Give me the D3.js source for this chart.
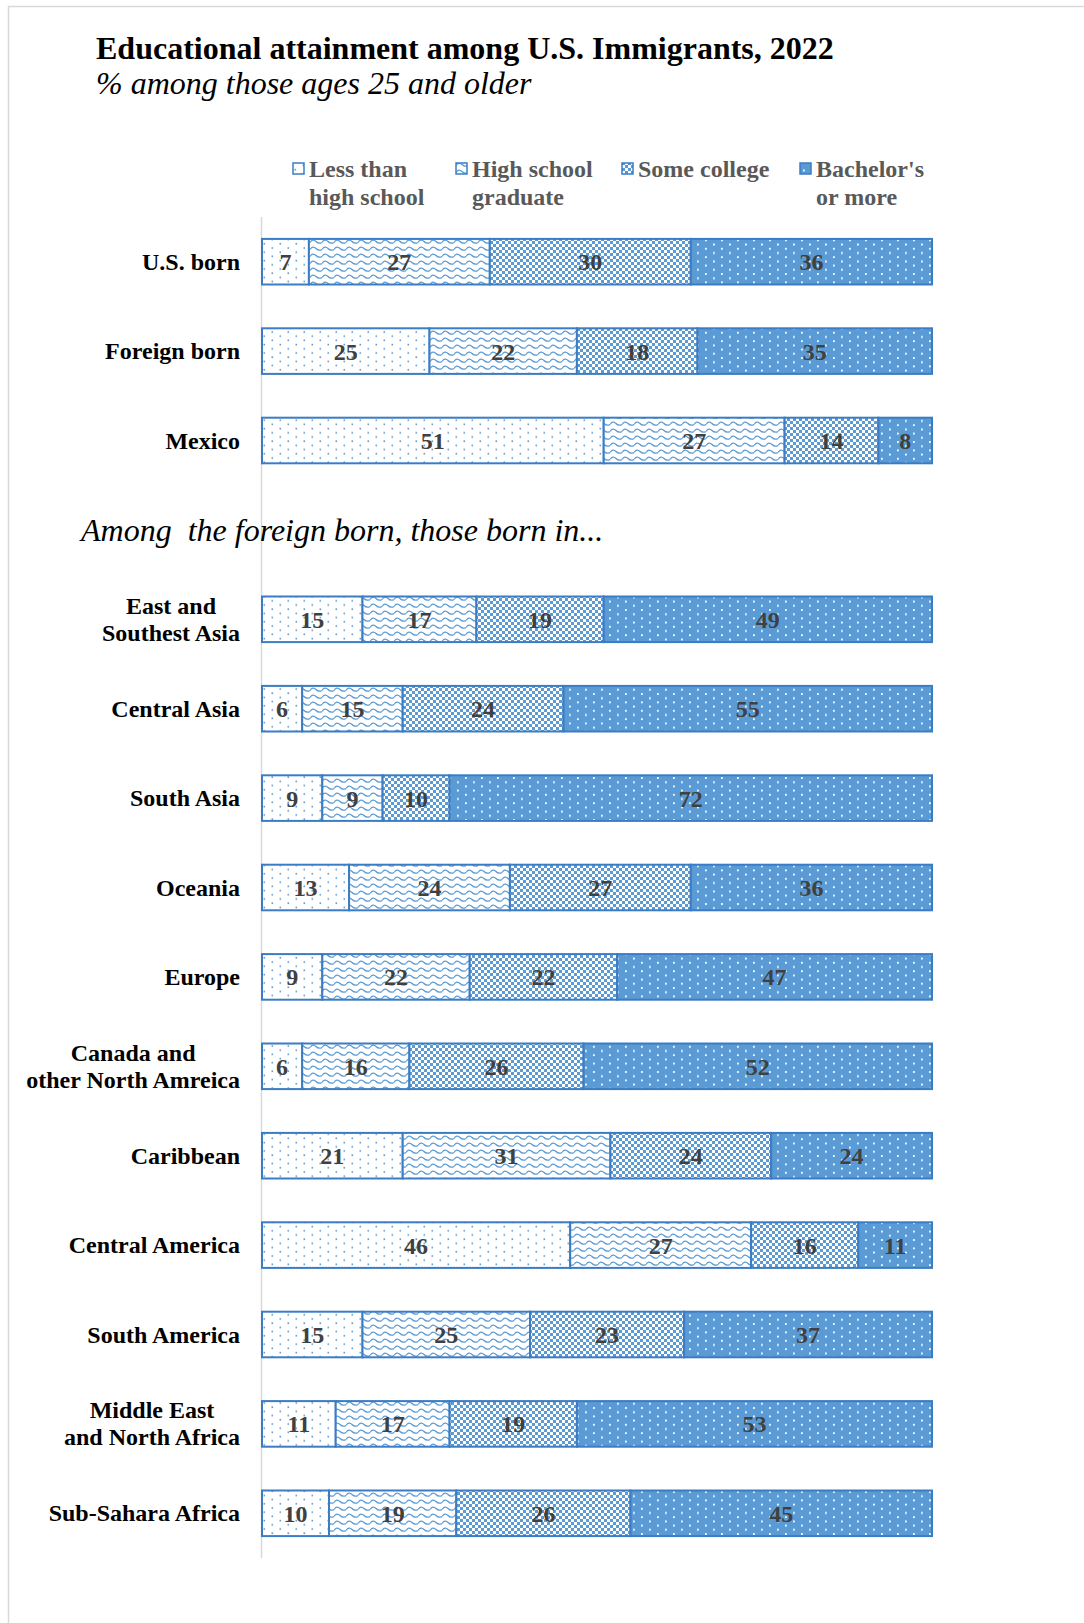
<!DOCTYPE html>
<html>
<head>
<meta charset="utf-8">
<script src="https://cdn.jsdelivr.net/npm/d3@7"></script>
<style>
    body { margin: 0; background: #ffffff; }
    svg { display: block; }
</style>
</head>
<body>
<div id="edu-chart"></div>
<script>
// Categories (top group, then the regions of birth)
const topGroups = ["U.S. born", "Foreign born", "Mexico"]
const regions = [
    "East and\nSouthest Asia",
    "Central Asia",
    "South Asia",
    "Oceania",
    "Europe",
    "Canada and\nother North Amreica",
    "Caribbean",
    "Central America",
    "South America",
    "Middle East\nand North Africa",
    "Sub-Sahara Africa"
]
const categories = topGroups.concat(regions)

// Series values, same order as categories
const lessThanHS  = [7, 25, 51, 15, 6, 9, 13, 9, 6, 21, 46, 15, 11, 10]
const hsGraduate  = [27, 22, 27, 17, 15, 9, 24, 22, 16, 31, 27, 25, 17, 19]
const someCollege = [30, 18, 14, 19, 24, 10, 27, 22, 26, 24, 16, 23, 19, 26]
const bachelors   = [36, 35, 8, 49, 55, 72, 36, 47, 52, 24, 11, 37, 53, 45]

const seriesKeys = ["less", "hs", "some", "bach"]
const seriesLabels = ["Less than\nhigh school", "High school\ngraduate", "Some college", "Bachelor's\nor more"]

const titleText = "Educational attainment among U.S. Immigrants, 2022"
const subtitleText = "% among those ages 25 and older"
const gapText = "Among  the foreign born, those born in..."

function drawChart() {
    const table = categories.map((c, i) => ({
        category: c,
        less: lessThanHS[i],
        hs: hsGraduate[i],
        some: someCollege[i],
        bach: bachelors[i]
    }))

    const blue = "#5b9bd5"
    const edge = "#3b7cc4"
    const serif = "'Liberation Serif', 'Times New Roman', serif"

    // Set dimensions
    const dimensions = {
        width: 1084,
        height: 1623,
        margins: { top: 217, left: 262, right: 152, bottom: 65 }
    }
    dimensions.boundedWidth = dimensions.width - dimensions.margins.left - dimensions.margins.right
    dimensions.boundedHeight = dimensions.height - dimensions.margins.top - dimensions.margins.bottom

    // Create wrapper
    const wrapper = d3.select("#edu-chart").append("svg")
        .attr("width", dimensions.width)
        .attr("height", dimensions.height)
        .style("font-family", serif)

    // Chart frame
    wrapper.append("rect")
        .attr("x", 8.5).attr("y", 6.5)
        .attr("width", 1200).attr("height", 1800)
        .attr("fill", "none")
        .attr("stroke", "#d9d9d9")
        .attr("stroke-width", 1.5)

    // Patterns
    const defs = wrapper.append("defs")

    const pLess = defs.append("pattern").attr("id", "pat-less")
        .attr("patternUnits", "userSpaceOnUse").attr("width", 16).attr("height", 8.4)
    pLess.append("rect").attr("width", 16).attr("height", 8.4).attr("fill", "#ffffff")
    pLess.append("rect").attr("x", 1.5).attr("y", 0.8).attr("width", 1.6).attr("height", 1.6).attr("fill", blue)
    pLess.append("rect").attr("x", 9.5).attr("y", 5).attr("width", 1.6).attr("height", 1.6).attr("fill", blue)

    const pHs = defs.append("pattern").attr("id", "pat-hs")
        .attr("patternUnits", "userSpaceOnUse").attr("width", 12).attr("height", 7)
    pHs.append("rect").attr("width", 12).attr("height", 7).attr("fill", "#ffffff")
    pHs.append("path")
        .attr("d", "M0,4.5 C2,1.5 4,1.5 6,3.5 C8,5.5 10,5.5 12,4.5")
        .attr("fill", "none").attr("stroke", blue).attr("stroke-width", 1.3)

    const pSome = defs.append("pattern").attr("id", "pat-some")
        .attr("patternUnits", "userSpaceOnUse").attr("width", 6).attr("height", 6)
    pSome.append("rect").attr("width", 6).attr("height", 6).attr("fill", "#ffffff")
    pSome.append("rect").attr("width", 3).attr("height", 3).attr("fill", blue)
    pSome.append("rect").attr("x", 3).attr("y", 3).attr("width", 3).attr("height", 3).attr("fill", blue)

    const pBach = defs.append("pattern").attr("id", "pat-bach")
        .attr("patternUnits", "userSpaceOnUse").attr("width", 16).attr("height", 8.4)
    pBach.append("rect").attr("width", 16).attr("height", 8.4).attr("fill", blue)
    pBach.append("rect").attr("x", 3).attr("y", 1.5).attr("width", 1.8).attr("height", 1.8).attr("fill", "#ffffff")
    pBach.append("rect").attr("x", 11).attr("y", 5.7).attr("width", 1.8).attr("height", 1.8).attr("fill", "#ffffff")

    const fillFor = key => `url(#pat-${key})`

    // Title and subtitle
    wrapper.append("text")
        .attr("x", 96).attr("y", 59)
        .attr("font-size", 32).attr("font-weight", "bold").attr("fill", "#000000")
        .text(titleText)
    wrapper.append("text")
        .attr("x", 96).attr("y", 94)
        .attr("font-size", 32).attr("font-style", "italic").attr("fill", "#000000")
        .text(subtitleText)

    // Create bounds
    const bounds = wrapper.append("g")
        .attr("transform", `translate(${dimensions.margins.left}, ${dimensions.margins.top})`)

    // Create scales (one empty band between the two groups)
    const yDomain = topGroups.concat(["gap"], regions)
    const yScale = d3.scaleBand()
        .domain(yDomain)
        .range([0, dimensions.boundedHeight])
        .paddingInner(0.49)
        .paddingOuter(0.245)

    const xScale = d3.scaleLinear()
        .domain([0, 100])
        .range([0, dimensions.boundedWidth])

    const stacked = d3.stack().keys(seriesKeys)(table)

    // Vertical axis line
    bounds.append("line")
        .attr("x1", -0.5).attr("x2", -0.5)
        .attr("y1", 0).attr("y2", dimensions.boundedHeight)
        .attr("stroke", "#d9d9d9").attr("stroke-width", 1.5)

    // Section note in the empty band
    bounds.append("text")
        .attr("x", 81 - dimensions.margins.left)
        .attr("y", yScale("gap") + yScale.bandwidth() / 2 + 11)
        .attr("font-size", 32).attr("font-style", "italic").attr("fill", "#000000")
        .style("white-space", "pre")
        .text(gapText)

    // Draw bars
    const layers = bounds.selectAll(".layer")
        .data(stacked)
        .join("g")
        .attr("class", "layer")
        .attr("fill", d => fillFor(d.key))

    layers.selectAll("rect")
        .data(d => d)
        .join("rect")
        .attr("x", d => xScale(d[0]))
        .attr("y", d => yScale(d.data.category))
        .attr("width", d => xScale(d[1]) - xScale(d[0]))
        .attr("height", yScale.bandwidth())
        .attr("stroke", edge)
        .attr("stroke-width", 2)

    // Value labels
    layers.selectAll(".val")
        .data(d => d)
        .join("text")
        .attr("class", "val")
        .attr("x", d => xScale((d[0] + d[1]) / 2))
        .attr("y", d => yScale(d.data.category) + yScale.bandwidth() / 2 + 8.5)
        .attr("text-anchor", "middle")
        .attr("font-size", 24).attr("font-weight", "bold").attr("fill", "#404040")
        .text(d => d[1] - d[0])

    // Category labels (multi-line ones centred on each other, block right-aligned)
    const labelRight = 240 - dimensions.margins.left
    categories.forEach(c => {
        const lines = c.split("\n")
        const cy = yScale(c) + yScale.bandwidth() / 2
        const t = bounds.append("text")
            .attr("font-size", 24).attr("font-weight", "bold").attr("fill", "#000000")
            .attr("text-anchor", "middle")
        lines.forEach((line, i) => {
            t.append("tspan")
                .attr("y", cy + 8 - (lines.length - 1) * 13.5 + i * 27)
                .text(line)
        })
        const widths = t.selectAll("tspan").nodes().map(n => n.getComputedTextLength())
        const maxW = d3.max(widths)
        t.selectAll("tspan").attr("x", labelRight - maxW / 2)
    })

    // Legend
    const legendX = [293, 456, 622, 800]
    const legend = wrapper.append("g")
    seriesKeys.forEach((key, i) => {
        const g = legend.append("g").attr("transform", `translate(${legendX[i]}, 0)`)
        g.append("rect")
            .attr("x", 0).attr("y", 163)
            .attr("width", 11).attr("height", 11)
            .attr("fill", fillFor(key))
            .attr("stroke", edge).attr("stroke-width", 1.5)
        const t = g.append("text")
            .attr("font-size", 24).attr("font-weight", "bold").attr("fill", "#595959")
        seriesLabels[i].split("\n").forEach((line, j) => {
            t.append("tspan").attr("x", 16).attr("y", 177 + j * 28).text(line)
        })
    })
}

drawChart()
</script>
</body>
</html>
